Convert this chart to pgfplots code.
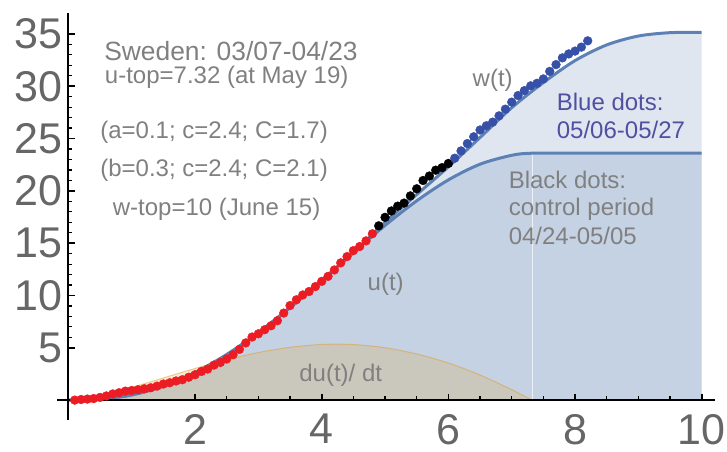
\documentclass[border=0pt]{standalone}
\usepackage{fontspec}
\setmainfont{Liberation Sans}
\usepackage{pgfplots}
\usepackage{pgfplotstable}
\pgfplotsset{compat=1.18}
\definecolor{mblue}{RGB}{94,129,181}
\definecolor{morange}{RGB}{225,156,36}
\definecolor{dotred}{RGB}{236,28,36}
\definecolor{dotblue}{RGB}{55,80,168}
\definecolor{txtgray}{RGB}{128,128,128}
\definecolor{tickgray}{RGB}{102,102,102}
\definecolor{bluetxt}{RGB}{80,80,160}

% fitted curves (t in units of 10 days)
\pgfplotstableread{
t u
0 0
0.5 0.09
1 0.5
1.5 1.34
2 2.63
2.5 4.35
3 6.45
3.5 8.85
4 11.44
4.5 14.1
5 16.7
5.5 19.05
6 21.05
6.5 22.55
7 23.4
7.32 23.6
8 23.6
9 23.6
10 23.6
}\utable

\pgfplotstableread{
t w
0 0
0.5 0.09
1 0.5
1.5 1.34
2 2.63
2.5 4.35
3 6.45
3.5 8.85
4 11.44
4.5 14.1
5 17.0
5.5 19.65
6 22.3
6.5 25.1
7 27.95
7.5 30.35
8 32.45
8.5 33.95
9 34.8
9.5 35.12
10 35.15
}\wtable

\pgfplotstableread{
t du
0 0
0.5 0.44
1 1.22
1.5 2.12
2 3.03
2.5 3.86
3 4.55
3.5 5.05
4 5.32
4.5 5.31
5 5.01
5.5 4.41
6 3.55
6.5 2.4
7 1.0
7.32 0
}\dutable

\newcommand{\ann}{\fontsize{24}{28}\selectfont}

\begin{document}
\begin{tikzpicture}
\path[use as bounding box] (0,0) rectangle (727pt,451pt);
\begin{axis}[
  at={(57pt,31pt)}, anchor=south west,
  scale only axis, width=658pt, height=407pt,
  xmin=-0.18, xmax=10.21, ymin=-1.9, ymax=37.0,
  axis lines=middle,
  axis line style={-, black, line width=2pt},
  x axis line style={-}, y axis line style={-},
  axis on top,
  clip=false,
  xtick={2,4,6,8,10}, ytick={5,10,...,35},
  minor x tick num=3, minor y tick num=4,
  tick align=inside,
  major tick length=6.5pt, minor tick length=4pt,
  major tick style={black, line width=1.6pt},
  minor tick style={black, line width=1.2pt},
  tick label style={font=\fontsize{43}{43}\selectfont, text=tickgray, inner sep=0pt},
  xticklabel style={anchor=north, yshift=-14pt},
  yticklabel style={anchor=east, xshift=-6pt},
  /pgf/number format/assume math mode=true,
]
\addplot[smooth, draw=none, fill=mblue, fill opacity=0.2] table {\wtable} \closedcycle;
\addplot[smooth, draw=none, fill=mblue, fill opacity=0.2] table {\utable} \closedcycle;
\addplot[smooth, draw=none, fill=morange, fill opacity=0.2] table {\dutable} \closedcycle;
\addplot[smooth, mblue, line width=3pt] table {\wtable};
\addplot[smooth, mblue, line width=3pt] table {\utable};
\addplot[smooth, morange, opacity=0.5, line width=1pt] table {\dutable};
\addplot[white, line width=0.8pt, opacity=0.7] coordinates {(7.32,0) (7.32,23.45)};

% red dots 03/07-04/23
\addplot[dotred, only marks, mark=*, mark size=4.4pt, mark options={draw=none, fill=dotred}] coordinates {
(0.1,0.00)(0.2,0.06)(0.3,0.10)(0.4,0.15)(0.5,0.26)(0.6,0.40)(0.7,0.59)(0.8,0.71)
(0.9,0.86)(1.0,0.92)(1.1,1.00)(1.2,1.09)(1.3,1.18)(1.4,1.34)(1.5,1.54)(1.6,1.66)
(1.7,1.83)(1.8,1.95)(1.9,2.19)(2.0,2.43)(2.1,2.74)(2.2,2.97)(2.3,3.35)(2.4,3.60)
(2.5,3.93)(2.6,4.34)(2.7,4.85)(2.8,5.47)(2.9,6.03)(3.0,6.34)(3.1,6.73)(3.2,7.11)
(3.3,7.59)(3.4,8.32)(3.5,9.04)(3.6,9.59)(3.7,10.05)(3.8,10.38)(3.9,10.85)(4.0,11.35)
(4.1,11.83)(4.2,12.44)(4.3,13.12)(4.4,13.72)(4.5,14.29)(4.6,14.68)(4.7,15.22)(4.8,15.90)
};
% black dots 04/24-05/05
\addplot[black, only marks, mark=*, mark size=4.4pt, mark options={draw=none, fill=black}] coordinates {
(4.9,16.66)(5.0,17.47)(5.1,18.08)(5.2,18.54)(5.3,18.83)(5.4,19.52)
(5.5,20.20)(5.6,20.99)(5.7,21.42)(5.8,21.98)(5.9,22.22)(6.0,22.62)
};
% blue dots 05/06-05/27
\addplot[dotblue, only marks, mark=*, mark size=4.4pt, mark options={draw=none, fill=dotblue}] coordinates {
(6.1,23.12)(6.2,23.82)(6.3,24.52)(6.4,25.17)(6.5,25.82)(6.6,26.22)(6.7,26.57)(6.8,27.17)
(6.9,27.81)(7.0,28.48)(7.1,29.11)(7.2,29.58)(7.3,30.04)(7.4,30.28)(7.5,30.70)(7.6,31.42)
(7.7,32.07)(7.8,32.71)(7.9,33.09)(8.0,33.36)(8.1,33.74)(8.2,34.34)
};

\begin{scope}[every node/.style={font=\ann, text=txtgray, inner sep=0pt, anchor=base}]
\node[font=\fontsize{26.4}{30}\selectfont] at (axis cs:2.567,32.5) {Sweden: 03/07-04/23};
\node at (axis cs:2.50,30.28) {u-top=7.32 (at May 19)};
\node at (axis cs:2.30,25.02) {(a=0.1; c=2.4; C=1.7)};
\node at (axis cs:2.30,21.35) {(b=0.3; c=2.4; C=2.1)};
\node at (axis cs:2.34,17.69) {w-top=10 (June 15)};
\node at (axis cs:6.70,29.95) {w(t)};
\node at (axis cs:5.01,10.52) {u(t)};
\node at (axis cs:4.30,1.75) {du(t)/ dt};
\node[anchor=base west, text=bluetxt] at (axis cs:7.71,27.66) {Blue dots:};
\node[anchor=base west, text=bluetxt] at (axis cs:7.71,25.02) {05/06-05/27};
\node[anchor=base west] at (axis cs:6.95,20.22) {Black dots:};
\node[anchor=base west] at (axis cs:6.95,17.6) {control period};
\node[anchor=base west] at (axis cs:6.95,14.91) {04/24-05/05};
\end{scope}
\end{axis}
\end{tikzpicture}
\end{document}
